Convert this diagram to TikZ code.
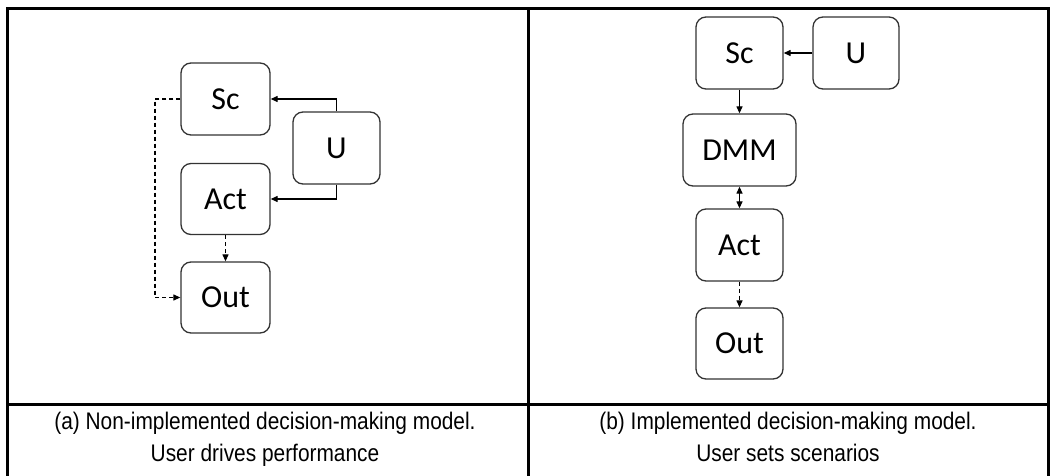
\documentclass[tikz,border=0pt]{standalone}
\usepackage{fontspec}
\setmainfont{Carlito}
\newfontfamily\capfont[FakeStretch=0.87]{Liberation Sans}
\usetikzlibrary{arrows.meta}
\definecolor{boxline}{HTML}{333333}
\tikzset{
  blk/.style={draw=boxline, line width=1.3pt, rounded corners=10pt, inner sep=0pt,
    font=\fontsize{32}{36}\selectfont, text=black, anchor=center},
  conn/.style={line width=1.2pt, -{Triangle[length=7pt,width=6pt]}},
  bconn/.style={line width=1.2pt, {Triangle[length=7pt,width=6pt]}-{Triangle[length=7pt,width=6pt]}},
  dconn/.style={conn, dash pattern=on 4pt off 3pt},
  tabline/.style={line width=3pt, black},
  captext/.style={font=\capfont\fontsize{24}{28}\selectfont, anchor=base, inner sep=0pt}
}
\begin{document}
\begin{tikzpicture}[x=1pt,y=-1pt]
\useasboundingbox (0,0) rectangle (1054,476);
% table
\draw[tabline] (7,9) rectangle (1048,490);
\draw[tabline] (528,9) -- (528,490);
\draw[tabline] (7,404) -- (1048,404);
% captions
\node[captext] (ca1) at (265,429) {(a) Non-implemented decision-making model.};
\node[captext] (ca2) at (265,461) {User drives performance};
\node[captext] (cb1) at (788,429) {(b) Implemented decision-making model.};
\node[captext] (cb2) at (788,461) {User sets scenarios};
% left panel
\node[blk, minimum width=89pt, minimum height=72pt] (lsc) at (225.5,99) {Sc};
\node[blk, minimum width=87pt, minimum height=72pt] (lu) at (336.5,148) {U};
\node[blk, minimum width=89pt, minimum height=71pt] (lact) at (225.5,199) {Act};
\node[blk, minimum width=89pt, minimum height=71pt] (lout) at (225.5,297.5) {Out};
\draw[conn] (lu.north) |- (lsc.east);
\draw[conn] (lu.south) |- (lact.east);
\draw[dconn] (lact.south) -- (lout.north);
\coordinate (lbend) at (155,99);
\draw[dconn] (lsc.west) -- (lbend) |- (lout.west);
% right panel
\node[blk, minimum width=87pt, minimum height=72pt] (rsc) at (739.5,53) {Sc};
\node[blk, minimum width=86pt, minimum height=72pt] (ru) at (856,53) {U};
\node[blk, minimum width=113pt, minimum height=72pt] (rdmm) at (739.5,150) {DMM};
\node[blk, minimum width=87pt, minimum height=72pt] (ract) at (739.5,245) {Act};
\node[blk, minimum width=87pt, minimum height=71pt] (rout) at (739.5,343.5) {Out};
\draw[conn] (ru.west) -- (rsc.east);
\draw[conn] (rsc.south) -- (rdmm.north);
\draw[bconn] (rdmm.south) -- (ract.north);
\draw[dconn] (ract.south) -- (rout.north);
\end{tikzpicture}
\end{document}
